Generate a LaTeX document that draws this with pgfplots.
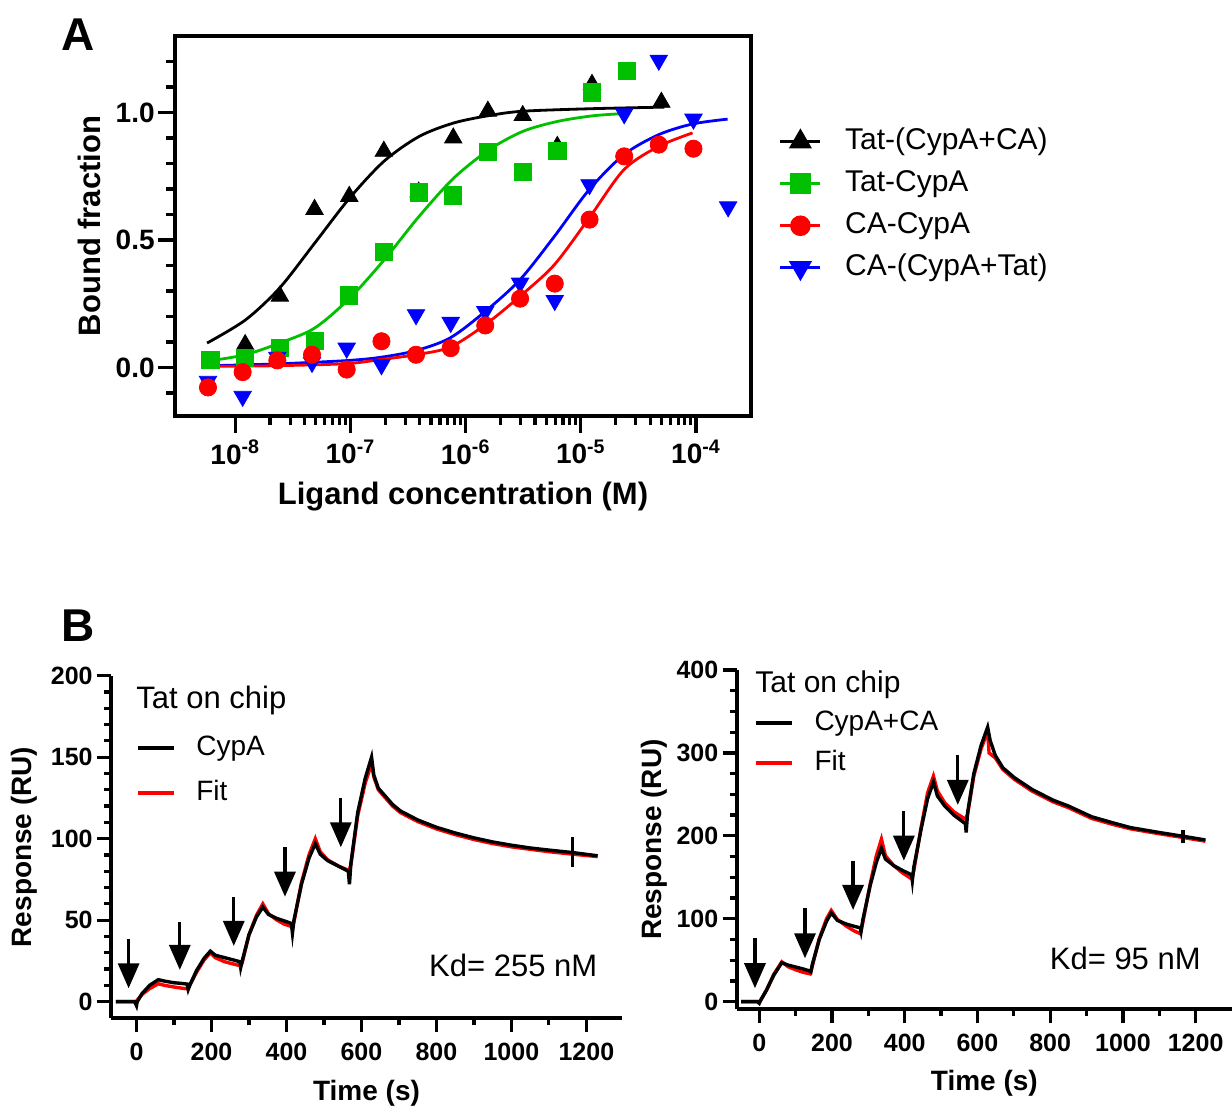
\documentclass[border=0pt]{standalone}
\usepackage{fontspec}
\setmainfont{Liberation Sans}
\usepackage{pgfplots}
\pgfplotsset{compat=1.18}
\usetikzlibrary{arrows.meta}
\definecolor{pgreen}{HTML}{00C000}
\definecolor{pred}{HTML}{FF0000}
\definecolor{pblue}{HTML}{0000FF}

\tikzset{arr/.style={line width=1.6pt, -{Triangle[width=10.5pt,length=12.5pt]}}}
\pgfplotsset{
  panelB/.style={
    scale only axis, clip=false,
    axis lines*=left, axis line style={line width=2pt},
    tick align=outside,
    every tick/.style={black, line width=1.6pt},
    major tick length=7pt, minor tick length=3.5pt,
    ticklabel style={font=\fontsize{12.5}{14}\selectfont\bfseries},
    xticklabel style={inner sep=5pt},
    yticklabel style={inner sep=2pt},
    label style={font=\fontsize{14}{16}\selectfont\bfseries},
    xtick={0,200,...,1200}, minor x tick num=1,
    xticklabels={0,200,400,600,800,1000,1200},
    legend image code/.code={\draw[#1] (0pt,0pt) -- (18pt,0pt);},
    legend cell align=left,
  },
}

\begin{document}
\begin{tikzpicture}[x=1pt,y=1pt]
\path[use as bounding box] (0,0) rectangle (616,553);
\node[font=\fontsize{23}{26}\selectfont\bfseries] at (39.2,535.5) {A};
\node[font=\fontsize{23}{26}\selectfont\bfseries] at (39.2,240.2) {B};

% ---------------- panel A ----------------
\begin{axis}[at={(87.5pt,345pt)}, anchor=south west, scale only axis,
  width=288pt, height=190pt,
  xmode=log, xmin=3e-9, xmax=3e-4, ymin=-0.19, ymax=1.3,
  axis line style={line width=2pt},
  tick align=outside, xtick pos=bottom, ytick pos=left,
  every tick/.style={black, line width=1.6pt},
  major tick length=8.5pt, minor tick length=4.5pt,
  xtick={1e-8,1e-7,1e-6,1e-5,1e-4},
  xticklabels={10\textsuperscript{-8},10\textsuperscript{-7},10\textsuperscript{-6},10\textsuperscript{-5},10\textsuperscript{-4}},
  ytick={0,0.5,1}, yticklabels={0.0,0.5,1.0},
  minor ytick={-0.1,0.1,0.2,0.3,0.4,0.6,0.7,0.8,0.9,1.1,1.2},
  ticklabel style={font=\fontsize{14}{16}\selectfont\bfseries},
  yticklabel style={inner sep=1.5pt},
  label style={font=\fontsize{15.5}{18}\selectfont\bfseries},
  xlabel={Ligand concentration (M)}, ylabel={Bound fraction},
  xlabel style={at={(axis description cs:0.5,-0.213)}, anchor=center},
  ylabel style={at={(axis description cs:-0.148,0.5)}, anchor=center},
  legend style={at={(rel axis cs:1.037,0.77)}, anchor=north west, draw=none, fill=none,
    font=\fontsize{15}{17}\selectfont, row sep=7pt,
    nodes={inner sep=0pt, text height=11pt, text depth=3pt},
    /tikz/every odd column/.style={column sep=11.5pt}},
  legend cell align=left,
  legend image code/.code={\draw[mark repeat=2,mark phase=2,#1] plot coordinates {(0pt,0pt) (10pt,0pt) (20pt,0pt)};},
]
% fitted curves
\addplot[black, line width=1.4pt, smooth, forget plot] coordinates {
(5.7e-9,0.096) (1.23e-8,0.187) (2.43e-8,0.312) (4.9e-8,0.488) (9.86e-8,0.665) (1.97e-7,0.81)
(3.95e-7,0.906) (7.9e-7,0.959) (1.6e-6,0.988) (3.14e-6,1.005) (1.27e-5,1.015) (5.3e-5,1.021)};
\addplot[pgreen, line width=1.4pt, smooth, forget plot] coordinates {
(6.1e-9,0.027) (1.22e-8,0.05) (2.43e-8,0.096) (4.9e-8,0.155) (9.86e-8,0.272) (1.97e-7,0.423)
(3.95e-7,0.593) (7.9e-7,0.743) (1.6e-6,0.854) (3.14e-6,0.926) (6.28e-6,0.965) (1.27e-5,0.987) (2.23e-5,0.995)};
\addplot[pblue, line width=1.4pt, smooth, forget plot] coordinates {
(7.27e-9,0.008) (2.25e-8,0.014) (9.1e-8,0.027) (1.82e-7,0.04) (3.67e-7,0.066) (7.33e-7,0.116)
(1.48e-6,0.22) (2.96e-6,0.344) (5.89e-6,0.514) (1.18e-5,0.697) (2.37e-5,0.835) (4.74e-5,0.913)
(9.33e-5,0.955) (1.88e-4,0.974)};
\addplot[pred, line width=1.4pt, smooth, forget plot] coordinates {
(7.27e-9,0.005) (2.25e-8,0.007) (9.1e-8,0.015) (1.82e-7,0.031) (3.67e-7,0.05) (7.33e-7,0.08)
(1.48e-6,0.168) (2.96e-6,0.279) (5.89e-6,0.403) (1.18e-5,0.586) (2.37e-5,0.776) (4.74e-5,0.867) (9.33e-5,0.92)};
% data points
\addplot[only marks, mark=triangle*, mark size=5pt, black, forget plot] coordinates {
(1.22e-8,0.09) (2.44e-8,0.28) (4.88e-8,0.62) (9.77e-8,0.671) (1.95e-7,0.848) (3.91e-7,0.688)
(7.81e-7,0.90) (1.56e-6,1.005) (3.13e-6,0.988) (6.25e-6,0.867) (1.25e-5,1.11) (5e-5,1.04)};
\addplot[only marks, mark=square*, mark size=4.3pt, pgreen, forget plot] coordinates {
(6.1e-9,0.031) (1.22e-8,0.037) (2.44e-8,0.076) (4.88e-8,0.103) (9.77e-8,0.283) (1.95e-7,0.453)
(3.91e-7,0.687) (7.81e-7,0.675) (1.56e-6,0.845) (3.13e-6,0.767) (6.25e-6,0.848) (1.25e-5,1.079) (2.5e-5,1.164)};
\addplot[only marks, mark=triangle*, mark size=5pt, mark options={rotate=180}, pblue, forget plot] coordinates {
(5.8e-9,-0.054) (1.16e-8,-0.113) (2.32e-8,0.04) (4.64e-8,0.02) (9.28e-8,0.076) (1.86e-7,0.011)
(3.71e-7,0.207) (7.42e-7,0.177) (1.48e-6,0.22) (2.97e-6,0.331) (5.94e-6,0.263) (1.19e-5,0.717)
(2.38e-5,0.995) (4.75e-5,1.205) (9.5e-5,0.974) (1.9e-4,0.63)};
\addplot[only marks, mark=*, mark size=4.3pt, pred, forget plot] coordinates {
(5.8e-9,-0.078) (1.16e-8,-0.018) (2.32e-8,0.028) (4.64e-8,0.05) (9.28e-8,-0.008) (1.86e-7,0.103)
(3.71e-7,0.05) (7.42e-7,0.076) (1.48e-6,0.165) (2.97e-6,0.27) (5.94e-6,0.329) (1.19e-5,0.58)
(2.38e-5,0.828) (4.75e-5,0.874) (9.5e-5,0.858)};
\addlegendimage{black, line width=1.7pt, mark=triangle*, mark size=5pt}
\addlegendentry{Tat-(CypA+CA)}
\addlegendimage{pgreen, line width=1.7pt, mark=square*, mark size=4.3pt}
\addlegendentry{Tat-CypA}
\addlegendimage{pred, line width=1.7pt, mark=*, mark size=4.3pt}
\addlegendentry{CA-CypA}
\addlegendimage{pblue, line width=1.7pt, mark=triangle*, mark size=5pt, mark options={rotate=180}}
\addlegendentry{CA-(CypA+Tat)}
\end{axis}

% ---------------- panel B left ----------------
\begin{axis}[panelB, at={(55.5pt,43.85pt)}, anchor=south west,
  width=255.5pt, height=171.3pt,
  xmin=-68, xmax=1295, ymin=-10.2, ymax=200,
  ytick={0,50,...,200}, yticklabels={0,50,100,150,200}, minor y tick num=4,
  xlabel={Time (s)}, ylabel={Response (RU)},
  xlabel style={at={(axis description cs:0.5,-0.218)}, anchor=center},
  ylabel style={at={(axis description cs:-0.170,0.5)}, anchor=center},
  legend style={at={(axis description cs:0.037,0.839)}, anchor=north west, draw=none, fill=none,
    font=\fontsize{14}{16}\selectfont, row sep=9.5pt,
    nodes={inner sep=0pt, text height=10pt, text depth=3pt},
    /tikz/every odd column/.style={column sep=10pt}},
]
\addplot[pred, line width=1.7pt, forget plot] coordinates {
(-55,0) (0,0) (2,1) (15,4.5) (35,8) (58,11) (75,10) (100,9) (120,8.3) (137,7.8) (142,10) (160,18)
(180,25.5) (197,30) (210,27) (235,24.5) (260,23) (278,22) (282,24) (300,41) (320,53) (337,60)
(352,54) (375,50) (395,47.5) (415,46) (420,49) (440,73) (460,90) (477,100) (490,92) (510,87)
(540,83) (567,80.5) (572,84) (590,114) (610,134) (627,146) (633,138) (645,130) (683,120) (704,116)
(750,110.5) (800,106) (850,102.5) (900,99.5) (950,97) (1000,95) (1050,93.5) (1100,92) (1163,90.5) (1230,89)};
\addplot[black, line width=1.7pt, forget plot] coordinates {
(-55,0) (-5,0) (0,-2.5) (2,0) (15,5) (35,10) (58,13.5) (75,12.6) (100,11.6) (120,11.2) (135,10.8)
(138,7.5) (142,10) (160,19) (180,26.5) (197,31) (210,28.5) (235,27) (260,25.5) (276,24.5) (278,21)
(282,25) (300,41) (320,52) (337,58) (352,53.5) (375,51) (395,49.5) (413,48) (416,42) (420,50)
(440,72) (460,88) (477,97) (490,90.5) (510,86.5) (540,83) (565,80) (568,72) (572,85) (590,116)
(610,137) (627,150) (633,139) (645,131) (683,121) (704,117) (750,111.5) (800,107) (850,103.5)
(900,100.5) (950,98) (1000,96) (1050,94.3) (1100,93) (1163,91.5) (1230,89.5)};
\addlegendimage{black, line width=2pt}
\addlegendentry{CypA}
\addlegendimage{pred, line width=2pt}
\addlegendentry{Fit}
\draw[arr] (axis cs:-21,38.3) -- (axis cs:-21,8.2);
\draw[arr] (axis cs:115.5,49) -- (axis cs:115.5,19.5);
\draw[arr] (axis cs:259.5,64) -- (axis cs:259.5,34.2);
\draw[arr] (axis cs:396,94.7) -- (axis cs:396,64.4);
\draw[arr] (axis cs:545,124.8) -- (axis cs:545,94.7);
\draw[line width=1.6pt] (axis cs:1163,101) -- (axis cs:1163,82.8);
\node[anchor=west, font=\fontsize{15.5}{18}\selectfont, inner sep=0pt] at (axis description cs:0.049,0.929) {Tat on chip};
\node[anchor=east, font=\fontsize{15.5}{18}\selectfont, inner sep=0pt] at (axis cs:1230,22) {Kd= 255 nM};
\end{axis}

% ---------------- panel B right ----------------
\begin{axis}[panelB, at={(368.35pt,48.35pt)}, anchor=south west,
  width=247.65pt, height=169.65pt,
  xmin=-62, xmax=1300, ymin=-9.2, ymax=400,
  ytick={0,100,...,400}, yticklabels={0,100,200,300,400}, minor y tick num=3,
  xlabel={Time (s)}, ylabel={Response (RU)},
  xlabel style={at={(axis description cs:0.5,-0.217)}, anchor=center},
  ylabel style={at={(axis description cs:-0.166,0.5)}, anchor=center},
  legend style={at={(axis description cs:0.021,0.894)}, anchor=north west, draw=none, fill=none,
    font=\fontsize{14}{16}\selectfont, row sep=7pt,
    nodes={inner sep=0pt, text height=10pt, text depth=3pt},
    /tikz/every odd column/.style={column sep=10.5pt}},
]
\addplot[pred, line width=1.7pt, forget plot] coordinates {
(-50,0) (0,0) (3,1) (20,14) (40,33) (62,48) (80,42) (103,38) (120,35.5) (140,33.5) (146,43) (165,76)
(185,100) (198,110) (215,99) (240,91) (260,85.5) (278,82) (285,96) (305,142) (322,176) (336,196)
(347,176) (370,164) (395,155) (419,148) (425,158) (445,210) (463,252) (479,272) (490,254) (510,240)
(535,229) (567,220) (573,226) (590,272) (610,305) (628,326) (632,300) (649,294) (670,280) (702,268)
(750,254) (808,241) (850,234) (914,221) (970,214) (1020,208.5) (1100,202.5) (1165,198) (1227,193.5)};
\addplot[black, line width=1.7pt, forget plot] coordinates {
(-50,0) (-5,0) (0,-2) (3,1) (20,14) (40,32) (62,47) (80,44) (103,41.5) (120,39.5) (139,37) (142,36)
(146,45) (165,75) (185,97) (198,107) (215,98) (240,93.5) (260,91) (278,89) (280,85) (285,99) (305,140)
(322,168) (336,185) (347,172) (370,164) (395,158) (419,153) (421,146) (425,162) (445,208) (463,245)
(479,265) (490,248) (510,236) (535,225) (567,214.5) (569,204) (573,228) (590,275) (610,309) (628,331)
(635,315) (649,297) (670,282) (702,270) (750,256) (808,243) (850,236) (914,223) (970,216) (1020,210)
(1100,204) (1165,199.5) (1227,195)};
\addlegendimage{black, line width=2pt}
\addlegendentry{CypA+CA}
\addlegendimage{pred, line width=2pt}
\addlegendentry{Fit}
\draw[arr] (axis cs:-11.8,76.5) -- (axis cs:-11.8,16.2);
\draw[arr] (axis cs:125.8,112.6) -- (axis cs:125.8,52.3);
\draw[arr] (axis cs:258,170) -- (axis cs:258,110.6);
\draw[arr] (axis cs:397.7,230) -- (axis cs:397.7,170);
\draw[arr] (axis cs:546,297.6) -- (axis cs:546,237.3);
\draw[line width=1.6pt] (axis cs:1165,207) -- (axis cs:1165,191);
\node[anchor=west, font=\fontsize{15}{18}\selectfont, inner sep=0pt] at (axis description cs:0.037,0.956) {Tat on chip};
\node[anchor=east, font=\fontsize{15.5}{18}\selectfont, inner sep=0pt] at (axis cs:1215,52) {Kd= 95 nM};
\end{axis}
\end{tikzpicture}
\end{document}
